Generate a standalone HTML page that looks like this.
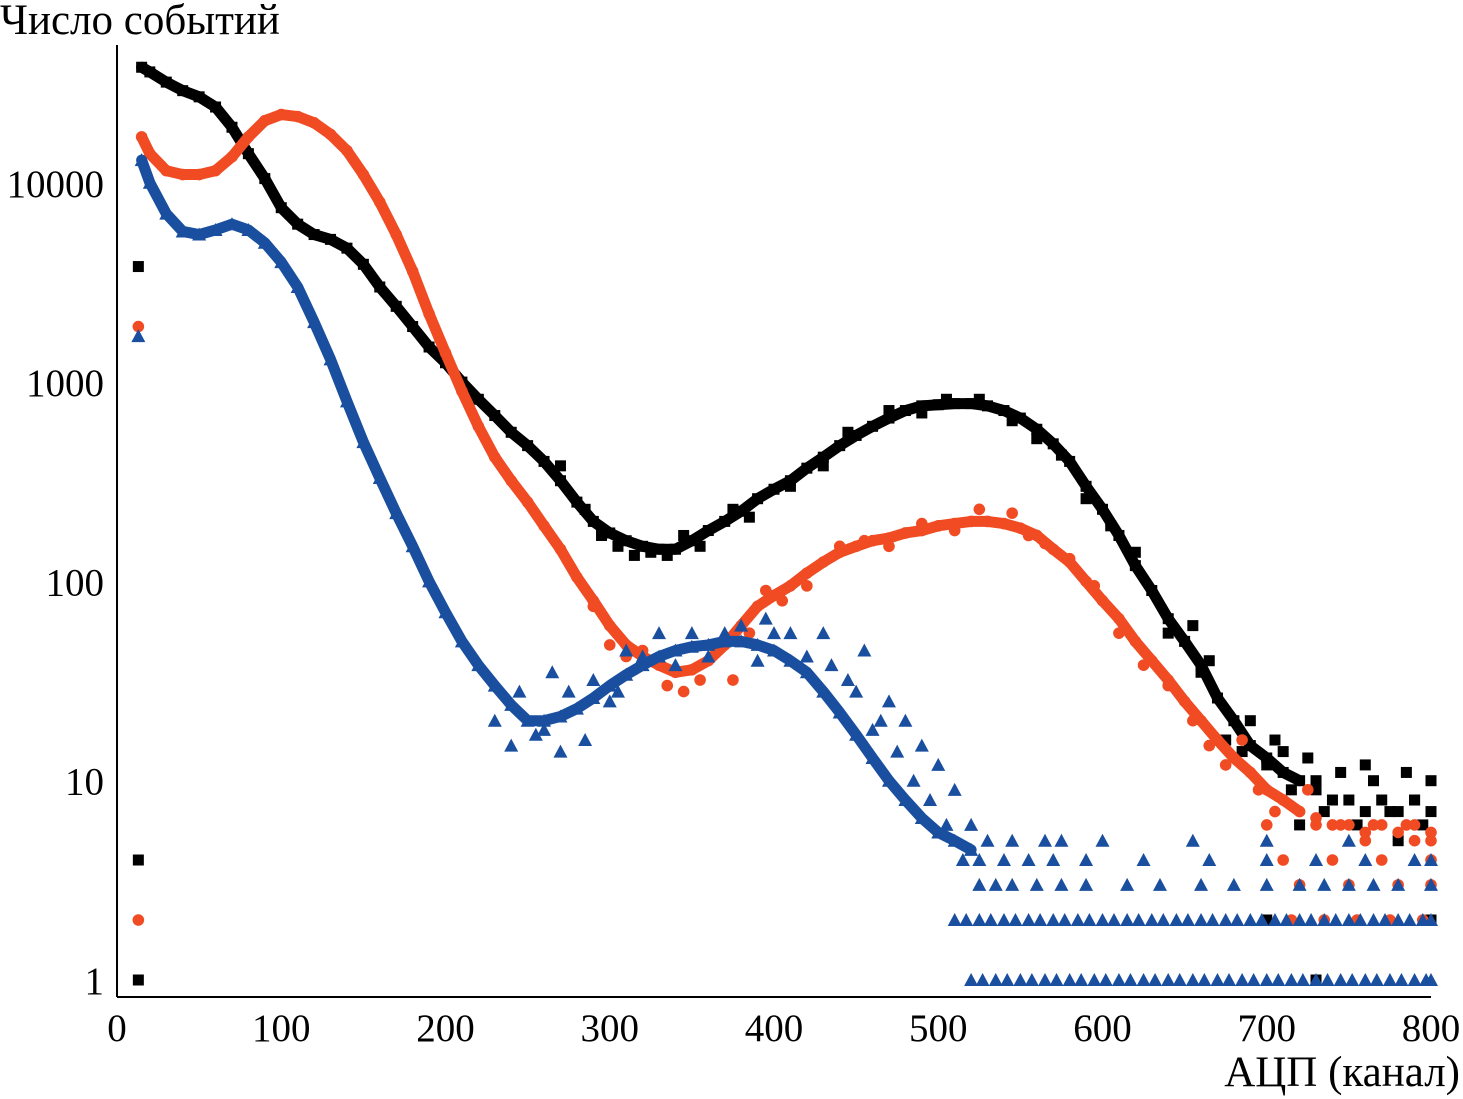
<!DOCTYPE html>
<html><head><meta charset="utf-8">
<style>
html,body{margin:0;padding:0;background:#fff;}
svg{display:block;font-family:"Liberation Serif",serif;}
</style></head>
<body>
<svg id="chart" width="1463" height="1099" viewBox="0 0 1463 1099">
<text x="0" y="34" font-size="43">Число событий</text>
<text x="1460" y="1086" font-size="43" text-anchor="end">АЦП (канал)</text>
<g id="axes"></g>
<g id="series-black" fill="#000" stroke="#000"></g>
<g id="series-red" fill="#f04b23" stroke="#f04b23"></g>
<g id="series-blue" fill="#1a4f9f" stroke="#1a4f9f"></g>
</svg>
<script>
const xTicks = [0,100,200,300,400,500,600,700,800];
const yTicks = [1,10,100,1000,10000];
const yTickLabels = ["1","10","100","1000","10000"];
const channels = [15,20,30,40,50,60,70,80,90,100,110,120,130,140,150,160,170,180,190,200,210,220,230,240,250,260,270,280,290,300,310,320,330,340,350,360,370,380,390,400,410,420,430,440,450,460,470,480,490,500,510,520,530,540,550,560,570,580,590,600,610,620,630,640,650,660,670,680,690,700,710,720,730,740,750,760,770,780,790,800];
const blackVals = [38000,36000,32000,29000,27000,24000,19000,14000,10500,7500,6200,5500,5200,4700,3900,3000,2400,1900,1500,1250,1000,820,680,560,480,400,320,250,200,175,160,150,145,145,160,180,200,225,260,290,320,370,420,480,540,600,660,720,760,770,780,780,760,720,660,580,490,400,300,230,170,120,90,65,50,38,26,20,15,13,11,10,9,8,8,7,8,7,8,7];
const redVals = [17000,14000,11500,11000,11000,11500,13500,17000,20500,22000,21500,20000,17500,14500,11000,8000,5500,3600,2200,1400,900,600,420,320,250,190,145,105,80,60,48,42,38,35,36,40,48,60,75,85,95,110,125,140,150,160,165,175,180,190,195,200,200,195,185,170,145,125,100,80,65,50,40,32,25,20,16,13,11,9,8,7,6.5,6,6,5.5,6,5.5,6,5.5];
const blueChannels = [15,20,30,40,50,60,70,80,90,100,110,120,130,140,150,160,170,180,190,200,210,220,230,240,250,260,270,280,290,300,310,320,330,340,350,360,370,380,390,400,410,420,430,440,450,460,470,480,490,500,510,520];
const blueVals = [13000,10000,7000,5700,5500,5800,6200,5800,5000,4000,3000,2000,1300,800,500,330,220,150,100,70,50,38,30,24,20,20,21,23,26,30,34,38,42,45,47,48,50,50,48,45,40,35,28,22,17,13,10,8,6.5,5.5,5,4.5];
const earlyCh = [13,13,13];
const blackEarly = [3800,4,1];
const redEarly = [1900,2];
const blueEarly = [1700];
const blackScatter = [[270,380],[285,230],[295,170],[305,150],[315,135],[325,140],[335,135],[345,170],[355,150],[375,230],[385,210],[410,300],[430,380],[445,560],[470,720],[490,700],[505,820],[525,820],[545,640],[560,520],[575,430],[590,260],[605,190],[620,140],[640,55],[655,60],[660,35],[665,40]];
const redScatter = [[290,75],[300,48],[310,42],[320,45],[335,30],[345,28],[355,32],[365,45],[375,32],[385,55],[395,90],[405,80],[420,95],[440,150],[455,160],[470,150],[490,195],[510,180],[525,230],[545,220],[555,170],[565,155],[580,130],[595,95],[610,55],[625,38],[640,30],[655,20],[665,15],[675,12],[685,16],[695,9]];
const blackTail = [[690,20],[700,12],[705,16],[715,9],[725,13],[735,7],[745,11],[755,6],[765,10],[775,7],[785,11],[795,6],[800,10],[710,14],[730,10],[760,12],[790,8],[720,6],[780,5],[800,2],[730,1],[700,2],[675,16],[685,14]];
const redTail = [[700,6],[710,4],[720,3],[730,6],[740,4],[750,3],[760,5],[770,4],[780,3],[790,5],[800,4],[715,2],[735,2],[755,2],[775,2],[795,2],[745,6],[765,6],[785,6],[800,3],[725,9],[705,7],[800,5]];
const blueScatter = [[240,15],[255,17],[270,14],[285,16],[265,35],[300,25],[310,45],[330,55],[350,55],[380,60],[395,65],[410,55],[430,55],[445,32],[455,45],[470,25],[480,20],[490,15],[500,12],[510,9],[460,18],[475,14],[230,20],[245,28],[260,18],[275,28],[290,32],[305,28],[320,42],[340,38],[360,42],[370,55],[390,40],[400,55],[420,42],[435,38],[450,28],[465,20],[485,10],[495,8],[505,6],[520,6]];
const blueTailCh1 = [520,527,535,542,550,557,565,572,580,587,595,602,610,617,625,632,640,647,655,662,670,677,685,692,700,707,715,722,730,737,745,752,760,767,775,782,790,797,800];
const blueTailCh2 = [510,517,525,532,540,547,555,562,570,577,585,592,600,607,615,622,630,637,645,652,660,667,675,682,690,697,705,712,720,727,735,742,750,757,765,772,780,787,795,800];
const blueTailCh3 = [525,535,545,560,575,590,615,635,660,680,700,720,735,750,765,780,800];
const blueTailCh4 = [515,525,540,555,570,590,625,665,700,730,760,790,800];
const blueTailCh5 = [530,545,565,575,600,655,700,750];

const X0=117,X1=1431,Y1=980,DEC=199.3;
function xs(v){return X0+(X1-X0)*v/800;}
function ys(v){return Y1-DEC*Math.log10(v);}
const NS="http://www.w3.org/2000/svg";
function mk(t,a,p){const e=document.createElementNS(NS,t);for(const k in a)e.setAttribute(k,a[k]);p.appendChild(e);return e;}

const ax=document.getElementById('axes');
let l=mk('line',{x1:X0,y1:45,x2:X0,y2:997,stroke:'#000','stroke-width':2},ax);


l=mk('line',{x1:X0,y1:997,x2:X1,y2:997,stroke:'#000','stroke-width':2},ax);


xTicks.forEach(v=>{
  const t=mk('text',{x:xs(v),y:1041,'font-size':39,'text-anchor':'middle'},ax);
  t.textContent=String(v);
  
  
});
yTicks.forEach((v,i)=>{
  const t=mk('text',{x:104,y:ys(v)+14,'font-size':39,'text-anchor':'end'},ax);
  t.textContent=yTickLabels[i];
  
  
});

function band(g,cs,vs,w,name){
  const pts=cs.map((c,i)=>xs(c)+','+ys(vs[i])).join(' ');
  const e=mk('polyline',{points:pts,fill:'none','stroke-width':w,'stroke-linejoin':'round','stroke-linecap':'round'},g);
  
  
}
function sq(g,c,v){const e=mk('rect',{x:xs(c)-5.5,y:ys(v)-5.5,width:11,height:11,stroke:'none'},g);

}
function ci(g,c,v){const e=mk('circle',{cx:xs(c),cy:ys(v),r:5.8,stroke:'none'},g);

}
function tr(g,c,v){const x=xs(c),y=ys(v);const e=mk('polygon',{points:`${x-7},${y+6} ${x+7},${y+6} ${x},${y-7}`,stroke:'none'},g);

}

const gb=document.getElementById('series-black'),gr=document.getElementById('series-red'),gu=document.getElementById('series-blue');
band(gb,channels.slice(0,72),blackVals.slice(0,72),11,'black-band');
channels.forEach((c,i)=>sq(gb,c,blackVals[i]));
blackEarly.forEach((v,i)=>sq(gb,earlyCh[i],v));
blackScatter.forEach(p=>sq(gb,p[0],p[1]));
blackTail.forEach(p=>sq(gb,p[0],p[1]));
band(gr,channels.slice(0,72),redVals.slice(0,72),11,'red-band');
channels.forEach((c,i)=>ci(gr,c,redVals[i]));
redEarly.forEach((v,i)=>ci(gr,earlyCh[i],v));
redScatter.forEach(p=>ci(gr,p[0],p[1]));
redTail.forEach(p=>ci(gr,p[0],p[1]));
band(gu,blueChannels,blueVals,11,'blue-band');
blueChannels.forEach((c,i)=>tr(gu,c,blueVals[i]));
blueEarly.forEach((v,i)=>tr(gu,earlyCh[i],v));
blueScatter.forEach(p=>tr(gu,p[0],p[1]));
blueTailCh1.forEach(c=>tr(gu,c,1));
blueTailCh2.forEach(c=>tr(gu,c,2));
blueTailCh3.forEach(c=>tr(gu,c,3));
blueTailCh4.forEach(c=>tr(gu,c,4));
blueTailCh5.forEach(c=>tr(gu,c,5));
</script>
</body></html>
